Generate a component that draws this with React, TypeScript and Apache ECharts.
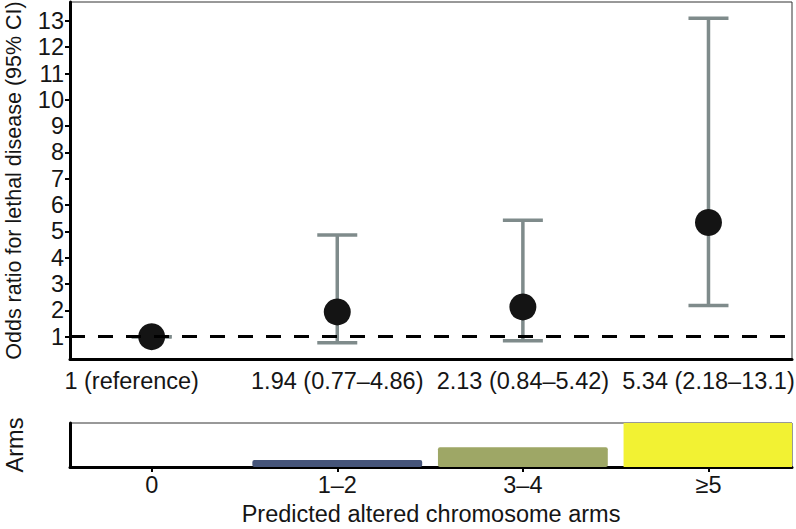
import React, { useEffect, useRef } from "react";
import * as echarts from "echarts";

// ---- data ----
const groupPositions = [1, 2, 3, 4];
const oddsRatios = [1, 1.94, 2.13, 5.34];
const ciLower = [1, 0.77, 0.84, 2.18];
const ciUpper = [1, 4.86, 5.42, 13.1];
const orLabels = ["1 (reference)", "1.94 (0.77–4.86)", "2.13 (0.84–5.42)", "5.34 (2.18–13.1)"];
const yTicks = [1, 2, 3, 4, 5, 6, 7, 8, 9, 10, 11, 12, 13];
const referenceOR = 1;

const armsCategories = ["0", "1–2", "3–4", "≥5"];
const armsValues = [0, 0.16, 0.45, 1];
const armsColors = ["#ffffff", "#46557a", "#9ea766", "#f2f233"];

const FONT = "'Liberation Sans', Arial, Helvetica, sans-serif";
const TXT = "#151515";
const FS = 23.5;

export default function App() {
  const ref = useRef<HTMLDivElement>(null);

  useEffect(() => {
    if (!ref.current) return;
    const chart = echarts.init(ref.current, null, { renderer: "svg" });

    const pointData = groupPositions.map((x, i) => [x, oddsRatios[i]]);
    const errData = groupPositions.map((x, i) => [x, ciLower[i], ciUpper[i]]);
    const barData = groupPositions.map((x, i) => [x, armsValues[i], i]);

    const xMin = 0.56;
    const xMax = 4.45;

    const option: any = {
      animation: false,
      backgroundColor: "#ffffff",
      textStyle: { fontFamily: FONT },
      grid: [
        {
          left: 70,
          right: 4,
          top: 2,
          height: 357,
          containLabel: false,
          outerBoundsMode: "none",
          show: true,
          borderColor: "#333",
          borderWidth: 1,
          backgroundColor: "transparent",
        },
        {
          left: 70,
          right: 4,
          top: 423,
          height: 44,
          containLabel: false,
          outerBoundsMode: "none",
          show: true,
          borderColor: "#333",
          borderWidth: 1,
          backgroundColor: "transparent",
        },
      ],
      xAxis: [
        {
          type: "value",
          gridIndex: 0,
          min: xMin,
          max: xMax,
          splitLine: { show: false },
          axisLine: { show: true, onZero: false, lineStyle: { color: "#000", width: 3 } },
          axisTick: { show: false },
          axisLabel: {
            customValues: groupPositions,
            showMinLabel: true,
            showMaxLabel: true,
            hideOverlap: false,
            margin: 10,
            fontSize: FS,
            color: TXT,
            fontFamily: FONT,
            formatter: (v: number) => {
              const i = groupPositions.indexOf(Math.round(v));
              if (i === 0) return "{ref|" + orLabels[0] + "}";
              return orLabels[i] ?? "";
            },
            rich: {
              ref: { padding: [0, 40, 0, 0], fontSize: FS, color: TXT, fontFamily: FONT },
            },
          },
        },
        {
          type: "value",
          gridIndex: 1,
          min: xMin,
          max: xMax,
          splitLine: { show: false },
          axisLine: { show: true, onZero: false, lineStyle: { color: "#000", width: 3 } },
          axisTick: {
            show: true,
            customValues: groupPositions,
            length: 5,
            lineStyle: { color: "#000", width: 2 },
          },
          axisLabel: {
            customValues: groupPositions,
            showMinLabel: true,
            showMaxLabel: true,
            hideOverlap: false,
            margin: 6,
            fontSize: FS,
            color: TXT,
            fontFamily: FONT,
            formatter: (v: number) => armsCategories[groupPositions.indexOf(Math.round(v))] ?? "",
          },
          name: "Predicted altered chromosome arms",
          nameLocation: "middle",
          nameGap: 35,
          nameMoveOverlap: false,
          nameTextStyle: { fontSize: FS, color: TXT, fontFamily: FONT },
        },
      ],
      yAxis: [
        {
          type: "value",
          gridIndex: 0,
          min: 0.15,
          max: 13.72,
          splitLine: { show: false },
          axisLine: { show: true, onZero: false, lineStyle: { color: "#000", width: 3 } },
          axisTick: {
            show: true,
            customValues: yTicks,
            length: 5,
            lineStyle: { color: "#000", width: 2 },
          },
          axisLabel: {
            customValues: yTicks,
            showMinLabel: true,
            showMaxLabel: true,
            hideOverlap: false,
            margin: 6,
            fontSize: FS,
            color: TXT,
            fontFamily: FONT,
          },
          name: "Odds ratio for lethal disease (95% CI)",
          nameLocation: "middle",
          nameGap: 45,
          nameMoveOverlap: false,
          nameTextStyle: { fontSize: 21.5, color: TXT, fontFamily: FONT },
        },
        {
          type: "value",
          gridIndex: 1,
          min: 0,
          max: 1,
          splitLine: { show: false },
          axisLine: { show: true, onZero: false, lineStyle: { color: "#000", width: 3 } },
          axisTick: { show: false },
          axisLabel: { show: false },
          name: "Arms",
          nameLocation: "middle",
          nameGap: 43,
          nameMoveOverlap: false,
          nameTextStyle: { fontSize: FS, color: TXT, fontFamily: FONT },
        },
      ],
      series: [
        {
          type: "custom",
          name: "CI",
          xAxisIndex: 0,
          yAxisIndex: 0,
          z: 1,
          silent: true,
          data: errData,
          renderItem: (params: any, api: any) => {
            const x = api.value(0);
            const lo = api.coord([x, api.value(1)]);
            const hi = api.coord([x, api.value(2)]);
            const half = 20;
            const style = { stroke: "#7f8b8b", lineWidth: 3.5 };
            return {
              type: "group",
              children: [
                { type: "line", shape: { x1: lo[0], y1: lo[1], x2: hi[0], y2: hi[1] }, style },
                { type: "line", shape: { x1: lo[0] - half, y1: lo[1], x2: lo[0] + half, y2: lo[1] }, style },
                { type: "line", shape: { x1: hi[0] - half, y1: hi[1], x2: hi[0] + half, y2: hi[1] }, style },
              ],
            };
          },
        },
        {
          type: "line",
          name: "reference",
          xAxisIndex: 0,
          yAxisIndex: 0,
          z: 2,
          data: [],
          markLine: {
            silent: true,
            symbol: "none",
            label: { show: false },
            lineStyle: { color: "#000", width: 3, type: [15, 13] },
            data: [{ yAxis: referenceOR }],
          },
        },
        {
          type: "scatter",
          name: "OR",
          xAxisIndex: 0,
          yAxisIndex: 0,
          z: 3,
          symbol: "circle",
          symbolSize: 27,
          itemStyle: { color: "#141414", opacity: 1 },
          data: pointData,
        },
        {
          type: "custom",
          name: "Arms",
          xAxisIndex: 1,
          yAxisIndex: 1,
          z: 1,
          silent: true,
          data: barData,
          renderItem: (params: any, api: any) => {
            const x = api.value(0);
            const v = api.value(1);
            const idx = api.value(2);
            if (!v) return null;
            const halfW = 0.4575;
            const p0 = api.coord([x - halfW, 0]);
            const p1 = api.coord([x + halfW, v]);
            const rect = {
              x: p0[0],
              y: p1[1],
              width: p1[0] - p0[0],
              height: p0[1] - p1[1],
            };
            const cs = params.coordSys;
            const clipped = echarts.graphic.clipRectByRect(rect, {
              x: cs.x,
              y: cs.y,
              width: cs.width,
              height: cs.height,
            });
            if (!clipped) return null;
            return {
              type: "rect",
              shape: { ...clipped, r: idx === 3 ? 0 : 2 },
              style: { fill: armsColors[idx] },
            };
          },
        },
      ],
    };

    chart.setOption(option);
    return () => {
      chart.dispose();
    };
  }, []);

  return (
    <div
      ref={ref}
      style={{ position: "fixed", left: 0, top: 0, width: 796, height: 529, background: "#fff" }}
    />
  );
}
